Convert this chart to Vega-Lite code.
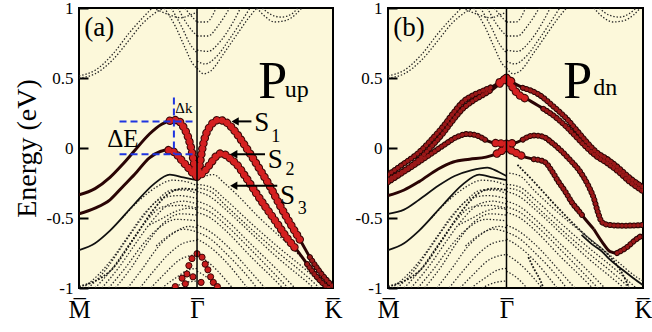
{
"$schema":"https://vega.github.io/schema/vega-lite/v6.json",
"autosize":{"type":"pad"},
"padding":{"left":11,"top":-2,"right":0,"bottom":0},
"bounds":"flush",
"spacing":55,
"datasets":{
"bulk":[
{"p":"ab","id":"c1","s":"dot","k":-0.868,"E":0.5},{"p":"ab","id":"c1","s":"dot","k":-0.75,"E":0.53},{"p":"ab","id":"c1","s":"dot","k":-0.62,"E":0.63},{"p":"ab","id":"c1","s":"dot","k":-0.5,"E":0.77},{"p":"ab","id":"c1","s":"dot","k":-0.4,"E":0.89},{"p":"ab","id":"c1","s":"dot","k":-0.3,"E":0.97},{"p":"ab","id":"c1","s":"dot","k":-0.24,"E":1.0},
{"p":"ab","id":"c2","s":"dot","k":-0.868,"E":0.515},{"p":"ab","id":"c2","s":"dot","k":-0.75,"E":0.555},{"p":"ab","id":"c2","s":"dot","k":-0.62,"E":0.67},{"p":"ab","id":"c2","s":"dot","k":-0.5,"E":0.82},{"p":"ab","id":"c2","s":"dot","k":-0.4,"E":0.93},{"p":"ab","id":"c2","s":"dot","k":-0.33,"E":1.0},
{"p":"ab","id":"cl1","s":"dot","k":-0.24,"E":1.0},{"p":"ab","id":"cl1","s":"dot","k":-0.16,"E":0.87},{"p":"ab","id":"cl1","s":"dot","k":-0.09,"E":0.72},{"p":"ab","id":"cl1","s":"dot","k":-0.03,"E":0.6},{"p":"ab","id":"cl1","s":"dot","k":0,"E":0.57},
{"p":"ab","id":"cl2","s":"dot","k":-0.19,"E":1.0},{"p":"ab","id":"cl2","s":"dot","k":-0.11,"E":0.86},{"p":"ab","id":"cl2","s":"dot","k":-0.05,"E":0.74},{"p":"ab","id":"cl2","s":"dot","k":0,"E":0.68},
{"p":"ab","id":"cl3","s":"dot","k":-0.14,"E":1.0},{"p":"ab","id":"cl3","s":"dot","k":-0.07,"E":0.88},{"p":"ab","id":"cl3","s":"dot","k":0,"E":0.8},
{"p":"ab","id":"cl4","s":"dot","k":-0.09,"E":1.0},{"p":"ab","id":"cl4","s":"dot","k":-0.03,"E":0.93},{"p":"ab","id":"cl4","s":"dot","k":0,"E":0.9},
{"p":"ab","id":"cl5","s":"dot","k":-0.3,"E":0.99},{"p":"ab","id":"cl5","s":"dot","k":-0.2,"E":0.95},{"p":"ab","id":"cl5","s":"dot","k":-0.12,"E":0.93},{"p":"ab","id":"cl5","s":"dot","k":-0.05,"E":0.95},{"p":"ab","id":"cl5","s":"dot","k":0,"E":0.97},
{"p":"ab","id":"cr1","s":"dot","k":0,"E":0.57},{"p":"ab","id":"cr1","s":"dot","k":0.05,"E":0.53},{"p":"ab","id":"cr1","s":"dot","k":0.1,"E":0.55},{"p":"ab","id":"cr1","s":"dot","k":0.2,"E":0.68},{"p":"ab","id":"cr1","s":"dot","k":0.3,"E":0.82},{"p":"ab","id":"cr1","s":"dot","k":0.38,"E":0.93},{"p":"ab","id":"cr1","s":"dot","k":0.44,"E":1.0},
{"p":"ab","id":"cr2","s":"dot","k":0,"E":0.62},{"p":"ab","id":"cr2","s":"dot","k":0.06,"E":0.6},{"p":"ab","id":"cr2","s":"dot","k":0.14,"E":0.65},{"p":"ab","id":"cr2","s":"dot","k":0.24,"E":0.78},{"p":"ab","id":"cr2","s":"dot","k":0.33,"E":0.91},{"p":"ab","id":"cr2","s":"dot","k":0.39,"E":1.0},
{"p":"ab","id":"cr3","s":"dot","k":0,"E":0.7},{"p":"ab","id":"cr3","s":"dot","k":0.08,"E":0.69},{"p":"ab","id":"cr3","s":"dot","k":0.17,"E":0.76},{"p":"ab","id":"cr3","s":"dot","k":0.26,"E":0.89},{"p":"ab","id":"cr3","s":"dot","k":0.32,"E":1.0},
{"p":"ab","id":"cr4","s":"dot","k":0,"E":0.8},{"p":"ab","id":"cr4","s":"dot","k":0.08,"E":0.8},{"p":"ab","id":"cr4","s":"dot","k":0.16,"E":0.88},{"p":"ab","id":"cr4","s":"dot","k":0.24,"E":1.0},
{"p":"ab","id":"cr5","s":"dot","k":0,"E":0.9},{"p":"ab","id":"cr5","s":"dot","k":0.07,"E":0.9},{"p":"ab","id":"cr5","s":"dot","k":0.14,"E":1.0},
{"p":"a","id":"ba1","s":"dot","k":0.44,"E":1.0},{"p":"a","id":"ba1","s":"dot","k":0.5,"E":0.94},{"p":"a","id":"ba1","s":"dot","k":0.57,"E":0.9},{"p":"a","id":"ba1","s":"dot","k":0.65,"E":0.91},{"p":"a","id":"ba1","s":"dot","k":0.72,"E":0.95},{"p":"a","id":"ba1","s":"dot","k":0.77,"E":1.0},
{"p":"a","id":"ba2","s":"dot","k":0.48,"E":1.0},{"p":"a","id":"ba2","s":"dot","k":0.55,"E":0.95},{"p":"a","id":"ba2","s":"dot","k":0.62,"E":0.935},{"p":"a","id":"ba2","s":"dot","k":0.7,"E":0.96},{"p":"a","id":"ba2","s":"dot","k":0.74,"E":1.0},
{"p":"b","id":"bb1","s":"dot","k":0.64,"E":1.0},{"p":"b","id":"bb1","s":"dot","k":0.7,"E":0.94},{"p":"b","id":"bb1","s":"dot","k":0.78,"E":0.9},{"p":"b","id":"bb1","s":"dot","k":0.86,"E":0.91},{"p":"b","id":"bb1","s":"dot","k":0.93,"E":0.95},{"p":"b","id":"bb1","s":"dot","k":0.98,"E":1.0},
{"p":"b","id":"bb2","s":"dot","k":0.68,"E":1.0},{"p":"b","id":"bb2","s":"dot","k":0.75,"E":0.95},{"p":"b","id":"bb2","s":"dot","k":0.83,"E":0.935},{"p":"b","id":"bb2","s":"dot","k":0.9,"E":0.96},{"p":"b","id":"bb2","s":"dot","k":0.95,"E":1.0},
{"p":"ab","id":"v1","s":"solid","k":-0.868,"E":-0.73},{"p":"ab","id":"v1","s":"solid","k":-0.75,"E":-0.68},{"p":"ab","id":"v1","s":"solid","k":-0.64,"E":-0.59},{"p":"ab","id":"v1","s":"solid","k":-0.46,"E":-0.4},{"p":"ab","id":"v1","s":"solid","k":-0.32,"E":-0.26},{"p":"ab","id":"v1","s":"solid","k":-0.2,"E":-0.19},{"p":"ab","id":"v1","s":"solid","k":-0.1,"E":-0.21},{"p":"ab","id":"v1","s":"solid","k":0,"E":-0.23},
{"p":"ab","id":"v2","s":"big","k":-0.868,"E":-0.99},{"p":"ab","id":"v2","s":"big","k":-0.75,"E":-0.95},{"p":"ab","id":"v2","s":"big","k":-0.64,"E":-0.88},{"p":"ab","id":"v2","s":"big","k":-0.46,"E":-0.64},{"p":"ab","id":"v2","s":"big","k":-0.32,"E":-0.44},{"p":"ab","id":"v2","s":"big","k":-0.2,"E":-0.32},{"p":"ab","id":"v2","s":"big","k":-0.1,"E":-0.29},{"p":"ab","id":"v2","s":"big","k":0,"E":-0.3},
{"p":"b","id":"vb47","s":"solid","k":-0.868,"E":-0.47},{"p":"b","id":"vb47","s":"solid","k":-0.75,"E":-0.44},{"p":"b","id":"vb47","s":"solid","k":-0.64,"E":-0.37},{"p":"b","id":"vb47","s":"solid","k":-0.5,"E":-0.27},{"p":"b","id":"vb47","s":"solid","k":-0.38,"E":-0.2},{"p":"b","id":"vb47","s":"solid","k":-0.26,"E":-0.16},{"p":"b","id":"vb47","s":"solid","k":-0.14,"E":-0.14},{"p":"b","id":"vb47","s":"solid","k":-0.06,"E":-0.17},{"p":"b","id":"vb47","s":"solid","k":0,"E":-0.2},
{"p":"ab","id":"d1","s":"dot","k":-0.8,"E":-1.0},{"p":"ab","id":"d1","s":"dot","k":-0.68,"E":-0.88},{"p":"ab","id":"d1","s":"dot","k":-0.55,"E":-0.7},{"p":"ab","id":"d1","s":"dot","k":-0.42,"E":-0.52},{"p":"ab","id":"d1","s":"dot","k":-0.3,"E":-0.38},{"p":"ab","id":"d1","s":"dot","k":-0.18,"E":-0.3},{"p":"ab","id":"d1","s":"dot","k":-0.08,"E":-0.3},{"p":"ab","id":"d1","s":"dot","k":0,"E":-0.33},
{"p":"ab","id":"d2","s":"dot","k":-0.7,"E":-1.0},{"p":"ab","id":"d2","s":"dot","k":-0.58,"E":-0.86},{"p":"ab","id":"d2","s":"dot","k":-0.45,"E":-0.68},{"p":"ab","id":"d2","s":"dot","k":-0.33,"E":-0.52},{"p":"ab","id":"d2","s":"dot","k":-0.2,"E":-0.4},{"p":"ab","id":"d2","s":"dot","k":-0.1,"E":-0.38},{"p":"ab","id":"d2","s":"dot","k":0,"E":-0.4},
{"p":"ab","id":"d3","s":"dot","k":-0.6,"E":-1.0},{"p":"ab","id":"d3","s":"dot","k":-0.48,"E":-0.85},{"p":"ab","id":"d3","s":"dot","k":-0.36,"E":-0.67},{"p":"ab","id":"d3","s":"dot","k":-0.24,"E":-0.53},{"p":"ab","id":"d3","s":"dot","k":-0.12,"E":-0.47},{"p":"ab","id":"d3","s":"dot","k":0,"E":-0.48},
{"p":"ab","id":"d4","s":"dot","k":-0.51,"E":-1.0},{"p":"ab","id":"d4","s":"dot","k":-0.4,"E":-0.86},{"p":"ab","id":"d4","s":"dot","k":-0.28,"E":-0.7},{"p":"ab","id":"d4","s":"dot","k":-0.16,"E":-0.6},{"p":"ab","id":"d4","s":"dot","k":-0.06,"E":-0.56},{"p":"ab","id":"d4","s":"dot","k":0,"E":-0.57},
{"p":"ab","id":"d5","s":"dot","k":-0.42,"E":-1.0},{"p":"ab","id":"d5","s":"dot","k":-0.32,"E":-0.88},{"p":"ab","id":"d5","s":"dot","k":-0.2,"E":-0.75},{"p":"ab","id":"d5","s":"dot","k":-0.1,"E":-0.68},{"p":"ab","id":"d5","s":"dot","k":0,"E":-0.66},
{"p":"ab","id":"d6","s":"dot","k":-0.34,"E":-1.0},{"p":"ab","id":"d6","s":"dot","k":-0.24,"E":-0.9},{"p":"ab","id":"d6","s":"dot","k":-0.13,"E":-0.8},{"p":"ab","id":"d6","s":"dot","k":0,"E":-0.76},
{"p":"ab","id":"d7","s":"dot","k":-0.26,"E":-1.0},{"p":"ab","id":"d7","s":"dot","k":-0.16,"E":-0.93},{"p":"ab","id":"d7","s":"dot","k":-0.06,"E":-0.87},{"p":"ab","id":"d7","s":"dot","k":0,"E":-0.86},
{"p":"ab","id":"d8","s":"dot","k":-0.18,"E":-1.0},{"p":"ab","id":"d8","s":"dot","k":-0.08,"E":-0.96},{"p":"ab","id":"d8","s":"dot","k":0,"E":-0.95},
{"p":"ab","id":"d9","s":"dot","k":-0.55,"E":-0.5},{"p":"ab","id":"d9","s":"dot","k":-0.42,"E":-0.37},{"p":"ab","id":"d9","s":"dot","k":-0.3,"E":-0.28},{"p":"ab","id":"d9","s":"dot","k":-0.18,"E":-0.23},{"p":"ab","id":"d9","s":"dot","k":-0.08,"E":-0.24},{"p":"ab","id":"d9","s":"dot","k":0,"E":-0.27},
{"p":"ab","id":"d10","s":"dot","k":-0.84,"E":-1.0},{"p":"ab","id":"d10","s":"dot","k":-0.72,"E":-0.9},{"p":"ab","id":"d10","s":"dot","k":-0.6,"E":-0.76},{"p":"ab","id":"d10","s":"dot","k":-0.5,"E":-0.62},{"p":"ab","id":"d10","s":"dot","k":-0.38,"E":-0.46},{"p":"ab","id":"d10","s":"dot","k":-0.26,"E":-0.36},{"p":"ab","id":"d10","s":"dot","k":-0.14,"E":-0.34},{"p":"ab","id":"d10","s":"dot","k":0,"E":-0.36},
{"p":"ab","id":"d11","s":"dot","k":-0.35,"E":-0.55},{"p":"ab","id":"d11","s":"dot","k":-0.25,"E":-0.5},{"p":"ab","id":"d11","s":"dot","k":-0.15,"E":-0.45},{"p":"ab","id":"d11","s":"dot","k":-0.05,"E":-0.43},{"p":"ab","id":"d11","s":"dot","k":0,"E":-0.44},
{"p":"ab","id":"d12","s":"dot","k":-0.3,"E":-0.7},{"p":"ab","id":"d12","s":"dot","k":-0.2,"E":-0.62},{"p":"ab","id":"d12","s":"dot","k":-0.1,"E":-0.58},{"p":"ab","id":"d12","s":"dot","k":0,"E":-0.6},
{"p":"ab","id":"d13","s":"dot","k":-0.75,"E":-1.0},{"p":"ab","id":"d13","s":"dot","k":-0.63,"E":-0.87},{"p":"ab","id":"d13","s":"dot","k":-0.5,"E":-0.69},{"p":"ab","id":"d13","s":"dot","k":-0.38,"E":-0.53},{"p":"ab","id":"d13","s":"dot","k":-0.25,"E":-0.42},{"p":"ab","id":"d13","s":"dot","k":-0.12,"E":-0.41},{"p":"ab","id":"d13","s":"dot","k":0,"E":-0.43},
{"p":"ab","id":"d14","s":"dot","k":-0.65,"E":-1.0},{"p":"ab","id":"d14","s":"dot","k":-0.53,"E":-0.86},{"p":"ab","id":"d14","s":"dot","k":-0.4,"E":-0.69},{"p":"ab","id":"d14","s":"dot","k":-0.28,"E":-0.57},{"p":"ab","id":"d14","s":"dot","k":-0.15,"E":-0.51},{"p":"ab","id":"d14","s":"dot","k":0,"E":-0.52},
{"p":"a","id":"s3","s":"dot","k":0,"E":-0.22},{"p":"a","id":"s3","s":"dot","k":0.06,"E":-0.2},{"p":"a","id":"s3","s":"dot","k":0.12,"E":-0.19},{"p":"a","id":"s3","s":"dot","k":0.2,"E":-0.25},{"p":"a","id":"s3","s":"dot","k":0.29,"E":-0.33},{"p":"a","id":"s3","s":"dot","k":0.46,"E":-0.5},{"p":"a","id":"s3","s":"dot","k":0.64,"E":-0.66},{"p":"a","id":"s3","s":"dot","k":0.79,"E":-0.8},{"p":"a","id":"s3","s":"dot","k":0.93,"E":-0.92},{"p":"a","id":"s3","s":"dot","k":1.0,"E":-0.97},
{"p":"ab","id":"r1","s":"dot","k":0,"E":-0.26},{"p":"ab","id":"r1","s":"dot","k":0.1,"E":-0.28},{"p":"ab","id":"r1","s":"dot","k":0.2,"E":-0.36},{"p":"ab","id":"r1","s":"dot","k":0.4,"E":-0.54},{"p":"ab","id":"r1","s":"dot","k":0.6,"E":-0.71},{"p":"ab","id":"r1","s":"dot","k":0.8,"E":-0.87},{"p":"ab","id":"r1","s":"dot","k":0.95,"E":-1.0},
{"p":"ab","id":"r1b","s":"dot","k":0,"E":-0.285},{"p":"ab","id":"r1b","s":"dot","k":0.1,"E":-0.31},{"p":"ab","id":"r1b","s":"dot","k":0.2,"E":-0.4},{"p":"ab","id":"r1b","s":"dot","k":0.4,"E":-0.58},{"p":"ab","id":"r1b","s":"dot","k":0.6,"E":-0.75},{"p":"ab","id":"r1b","s":"dot","k":0.8,"E":-0.91},{"p":"ab","id":"r1b","s":"dot","k":0.9,"E":-1.0},
{"p":"ab","id":"r2","s":"dot","k":0,"E":-0.31},{"p":"ab","id":"r2","s":"dot","k":0.1,"E":-0.35},{"p":"ab","id":"r2","s":"dot","k":0.2,"E":-0.43},{"p":"ab","id":"r2","s":"dot","k":0.4,"E":-0.61},{"p":"ab","id":"r2","s":"dot","k":0.6,"E":-0.79},{"p":"ab","id":"r2","s":"dot","k":0.8,"E":-0.95},{"p":"ab","id":"r2","s":"dot","k":0.86,"E":-1.0},
{"p":"ab","id":"r3","s":"dot","k":0,"E":-0.38},{"p":"ab","id":"r3","s":"dot","k":0.1,"E":-0.42},{"p":"ab","id":"r3","s":"dot","k":0.2,"E":-0.5},{"p":"ab","id":"r3","s":"dot","k":0.4,"E":-0.69},{"p":"ab","id":"r3","s":"dot","k":0.6,"E":-0.88},{"p":"ab","id":"r3","s":"dot","k":0.72,"E":-1.0},
{"p":"ab","id":"r3b","s":"dot","k":0,"E":-0.42},{"p":"ab","id":"r3b","s":"dot","k":0.1,"E":-0.46},{"p":"ab","id":"r3b","s":"dot","k":0.2,"E":-0.54},{"p":"ab","id":"r3b","s":"dot","k":0.4,"E":-0.73},{"p":"ab","id":"r3b","s":"dot","k":0.6,"E":-0.93},{"p":"ab","id":"r3b","s":"dot","k":0.67,"E":-1.0},
{"p":"ab","id":"r4","s":"dot","k":0,"E":-0.46},{"p":"ab","id":"r4","s":"dot","k":0.1,"E":-0.5},{"p":"ab","id":"r4","s":"dot","k":0.2,"E":-0.58},{"p":"ab","id":"r4","s":"dot","k":0.4,"E":-0.78},{"p":"ab","id":"r4","s":"dot","k":0.6,"E":-0.97},{"p":"ab","id":"r4","s":"dot","k":0.63,"E":-1.0},
{"p":"ab","id":"r5","s":"dot","k":0,"E":-0.55},{"p":"ab","id":"r5","s":"dot","k":0.1,"E":-0.6},{"p":"ab","id":"r5","s":"dot","k":0.2,"E":-0.68},{"p":"ab","id":"r5","s":"dot","k":0.4,"E":-0.89},{"p":"ab","id":"r5","s":"dot","k":0.5,"E":-1.0},
{"p":"ab","id":"r5b","s":"dot","k":0,"E":-0.6},{"p":"ab","id":"r5b","s":"dot","k":0.1,"E":-0.65},{"p":"ab","id":"r5b","s":"dot","k":0.2,"E":-0.74},{"p":"ab","id":"r5b","s":"dot","k":0.4,"E":-0.95},{"p":"ab","id":"r5b","s":"dot","k":0.44,"E":-1.0},
{"p":"ab","id":"r6","s":"dot","k":0,"E":-0.65},{"p":"ab","id":"r6","s":"dot","k":0.1,"E":-0.71},{"p":"ab","id":"r6","s":"dot","k":0.2,"E":-0.8},{"p":"ab","id":"r6","s":"dot","k":0.37,"E":-1.0},
{"p":"ab","id":"r7","s":"dot","k":0,"E":-0.76},{"p":"ab","id":"r7","s":"dot","k":0.1,"E":-0.83},{"p":"ab","id":"r7","s":"dot","k":0.2,"E":-0.93},{"p":"ab","id":"r7","s":"dot","k":0.26,"E":-1.0},
{"p":"ab","id":"r8","s":"dot","k":0,"E":-0.88},{"p":"ab","id":"r8","s":"dot","k":0.08,"E":-0.93},{"p":"ab","id":"r8","s":"dot","k":0.15,"E":-1.0},
{"p":"b","id":"rb0","s":"dot","k":0.02,"E":-0.18},{"p":"b","id":"rb0","s":"dot","k":0.1,"E":-0.2},{"p":"b","id":"rb0","s":"dot","k":0.2,"E":-0.3},{"p":"b","id":"rb0","s":"dot","k":0.4,"E":-0.48},{"p":"b","id":"rb0","s":"dot","k":0.6,"E":-0.64},{"p":"b","id":"rb0","s":"dot","k":0.8,"E":-0.8},{"p":"b","id":"rb0","s":"dot","k":0.95,"E":-0.92},{"p":"b","id":"rb0","s":"dot","k":1.0,"E":-0.95},
{"p":"b","id":"sb","s":"big","k":0.08,"E":-0.12},{"p":"b","id":"sb","s":"big","k":0.2,"E":-0.24},{"p":"b","id":"sb","s":"big","k":0.35,"E":-0.4},{"p":"b","id":"sb","s":"big","k":0.5,"E":-0.55},{"p":"b","id":"sb","s":"big","k":0.62,"E":-0.66},{"p":"b","id":"sb","s":"big","k":0.71,"E":-0.73},{"p":"b","id":"sb","s":"big","k":0.78,"E":-0.8},{"p":"b","id":"sb","s":"big","k":0.85,"E":-0.9},{"p":"b","id":"sb","s":"big","k":0.9,"E":-1.0},
{"p":"b","id":"sb2","s":"big","k":0.16,"E":-0.78},{"p":"b","id":"sb2","s":"big","k":0.2,"E":-0.86},{"p":"b","id":"sb2","s":"big","k":0.25,"E":-0.95},{"p":"b","id":"sb2","s":"big","k":0.27,"E":-1.0},
{"p":"b","id":"kb","s":"solid","k":0.55,"E":-0.62},{"p":"b","id":"kb","s":"solid","k":0.63,"E":-0.69},{"p":"b","id":"kb","s":"solid","k":0.7,"E":-0.74},{"p":"b","id":"kb","s":"solid","k":0.75,"E":-0.79},{"p":"b","id":"kb","s":"solid","k":0.85,"E":-0.87},{"p":"b","id":"kb","s":"solid","k":0.93,"E":-0.93},{"p":"b","id":"kb","s":"solid","k":1.0,"E":-0.98}
],
"bands":[
{"p":"a","id":"S1L","w":0,"k":-0.868,"E":-0.335},{"p":"a","id":"S1L","w":0,"k":-0.75,"E":-0.29},{"p":"a","id":"S1L","w":0,"k":-0.64,"E":-0.21},{"p":"a","id":"S1L","w":0,"k":-0.55,"E":-0.12},{"p":"a","id":"S1L","w":0,"k":-0.46,"E":-0.02},{"p":"a","id":"S1L","w":0,"k":-0.35,"E":0.1},{"p":"a","id":"S1L","w":0,"k":-0.26,"E":0.17},{"p":"a","id":"S1L","w":2,"k":-0.2,"E":0.195},{"p":"a","id":"S1L","w":2,"k":-0.15,"E":0.2},{"p":"a","id":"S1L","w":2,"k":-0.1,"E":0.15},{"p":"a","id":"S1L","w":2,"k":-0.06,"E":0.06},{"p":"a","id":"S1L","w":2,"k":-0.037,"E":-0.03},{"p":"a","id":"S1L","w":2,"k":-0.02,"E":-0.12},{"p":"a","id":"S1L","w":2,"k":0,"E":-0.2},
{"p":"a","id":"S1R","w":2,"k":0,"E":-0.2},{"p":"a","id":"S1R","w":2,"k":0.02,"E":-0.12},{"p":"a","id":"S1R","w":2,"k":0.036,"E":-0.02},{"p":"a","id":"S1R","w":2,"k":0.06,"E":0.08},{"p":"a","id":"S1R","w":2,"k":0.1,"E":0.16},{"p":"a","id":"S1R","w":2,"k":0.16,"E":0.2},{"p":"a","id":"S1R","w":2,"k":0.22,"E":0.18},{"p":"a","id":"S1R","w":2,"k":0.27,"E":0.13},{"p":"a","id":"S1R","w":2,"k":0.33,"E":0.05},{"p":"a","id":"S1R","w":2,"k":0.39,"E":-0.04},{"p":"a","id":"S1R","w":2,"k":0.46,"E":-0.15},{"p":"a","id":"S1R","w":2,"k":0.54,"E":-0.28},{"p":"a","id":"S1R","w":2,"k":0.61,"E":-0.41},{"p":"a","id":"S1R","w":2,"k":0.68,"E":-0.53},{"p":"a","id":"S1R","w":2,"k":0.76,"E":-0.66},{"p":"a","id":"S1R","w":1,"k":0.83,"E":-0.78},{"p":"a","id":"S1R","w":1,"k":0.9,"E":-0.88},{"p":"a","id":"S1R","w":1,"k":0.96,"E":-0.95},{"p":"a","id":"S1R","w":1,"k":1.0,"E":-0.99},
{"p":"a","id":"S2L","w":0,"k":-0.868,"E":-0.47},{"p":"a","id":"S2L","w":0,"k":-0.75,"E":-0.43},{"p":"a","id":"S2L","w":0,"k":-0.64,"E":-0.37},{"p":"a","id":"S2L","w":0,"k":-0.55,"E":-0.28},{"p":"a","id":"S2L","w":0,"k":-0.46,"E":-0.19},{"p":"a","id":"S2L","w":0,"k":-0.35,"E":-0.07},{"p":"a","id":"S2L","w":0,"k":-0.27,"E":-0.025},{"p":"a","id":"S2L","w":2,"k":-0.21,"E":-0.015},{"p":"a","id":"S2L","w":2,"k":-0.16,"E":-0.035},{"p":"a","id":"S2L","w":2,"k":-0.12,"E":-0.08},{"p":"a","id":"S2L","w":2,"k":-0.07,"E":-0.135},{"p":"a","id":"S2L","w":2,"k":-0.03,"E":-0.18},{"p":"a","id":"S2L","w":2,"k":0,"E":-0.205},
{"p":"a","id":"S2R","w":2,"k":0,"E":-0.205},{"p":"a","id":"S2R","w":2,"k":0.03,"E":-0.19},{"p":"a","id":"S2R","w":2,"k":0.06,"E":-0.16},{"p":"a","id":"S2R","w":2,"k":0.1,"E":-0.11},{"p":"a","id":"S2R","w":2,"k":0.14,"E":-0.06},{"p":"a","id":"S2R","w":2,"k":0.17,"E":-0.04},{"p":"a","id":"S2R","w":2,"k":0.21,"E":-0.05},{"p":"a","id":"S2R","w":2,"k":0.25,"E":-0.08},{"p":"a","id":"S2R","w":2,"k":0.29,"E":-0.115},{"p":"a","id":"S2R","w":2,"k":0.36,"E":-0.21},{"p":"a","id":"S2R","w":2,"k":0.44,"E":-0.33},{"p":"a","id":"S2R","w":2,"k":0.51,"E":-0.43},{"p":"a","id":"S2R","w":2,"k":0.59,"E":-0.54},{"p":"a","id":"S2R","w":2,"k":0.66,"E":-0.64},{"p":"a","id":"S2R","w":2,"k":0.735,"E":-0.73},{"p":"a","id":"S2R","w":1,"k":0.81,"E":-0.83},{"p":"a","id":"S2R","w":1,"k":0.88,"E":-0.92},{"p":"a","id":"S2R","w":1,"k":0.94,"E":-0.98},{"p":"a","id":"S2R","w":1,"k":0.97,"E":-1.0},
{"p":"b","id":"B1L","w":1,"k":-0.868,"E":-0.19},{"p":"b","id":"B1L","w":1,"k":-0.75,"E":-0.11},{"p":"b","id":"B1L","w":1,"k":-0.64,"E":-0.03},{"p":"b","id":"B1L","w":1,"k":-0.55,"E":0.06},{"p":"b","id":"B1L","w":1,"k":-0.46,"E":0.16},{"p":"b","id":"B1L","w":1,"k":-0.39,"E":0.25},{"p":"b","id":"B1L","w":1,"k":-0.32,"E":0.33},{"p":"b","id":"B1L","w":1,"k":-0.24,"E":0.38},{"p":"b","id":"B1L","w":1,"k":-0.17,"E":0.41},{"p":"b","id":"B1L","w":1,"k":-0.1,"E":0.44},{"p":"b","id":"B1L","w":2,"k":-0.05,"E":0.47},{"p":"b","id":"B1L","w":2,"k":0,"E":0.5},
{"p":"b","id":"B2L","w":1,"k":-0.868,"E":-0.225},{"p":"b","id":"B2L","w":1,"k":-0.75,"E":-0.16},{"p":"b","id":"B2L","w":1,"k":-0.64,"E":-0.08},{"p":"b","id":"B2L","w":1,"k":-0.55,"E":0.01},{"p":"b","id":"B2L","w":1,"k":-0.46,"E":0.11},{"p":"b","id":"B2L","w":1,"k":-0.39,"E":0.2},{"p":"b","id":"B2L","w":1,"k":-0.32,"E":0.28},{"p":"b","id":"B2L","w":1,"k":-0.24,"E":0.34},{"p":"b","id":"B2L","w":1,"k":-0.17,"E":0.38},{"p":"b","id":"B2L","w":1,"k":-0.1,"E":0.42},{"p":"b","id":"B2L","w":2,"k":-0.05,"E":0.46},{"p":"b","id":"B2L","w":2,"k":0,"E":0.5},
{"p":"b","id":"B1R","w":2,"k":0,"E":0.5},{"p":"b","id":"B1R","w":2,"k":0.06,"E":0.46},{"p":"b","id":"B1R","w":1,"k":0.12,"E":0.43},{"p":"b","id":"B1R","w":1,"k":0.24,"E":0.38},{"p":"b","id":"B1R","w":1,"k":0.34,"E":0.3},{"p":"b","id":"B1R","w":1,"k":0.44,"E":0.21},{"p":"b","id":"B1R","w":1,"k":0.52,"E":0.12},{"p":"b","id":"B1R","w":1,"k":0.59,"E":0.04},{"p":"b","id":"B1R","w":1,"k":0.66,"E":-0.03},{"p":"b","id":"B1R","w":1,"k":0.74,"E":-0.08},{"p":"b","id":"B1R","w":1,"k":0.82,"E":-0.14},{"p":"b","id":"B1R","w":1,"k":0.9,"E":-0.21},{"p":"b","id":"B1R","w":1,"k":1.0,"E":-0.28},
{"p":"b","id":"B2R","w":2,"k":0,"E":0.5},{"p":"b","id":"B2R","w":2,"k":0.04,"E":0.44},{"p":"b","id":"B2R","w":2,"k":0.08,"E":0.39},{"p":"b","id":"B2R","w":2,"k":0.15,"E":0.35},{"p":"b","id":"B2R","w":1,"k":0.27,"E":0.28},{"p":"b","id":"B2R","w":1,"k":0.36,"E":0.22},{"p":"b","id":"B2R","w":1,"k":0.44,"E":0.15},{"p":"b","id":"B2R","w":1,"k":0.52,"E":0.07},{"p":"b","id":"B2R","w":1,"k":0.59,"E":0.0},{"p":"b","id":"B2R","w":1,"k":0.66,"E":-0.06},{"p":"b","id":"B2R","w":1,"k":0.74,"E":-0.11},{"p":"b","id":"B2R","w":1,"k":0.82,"E":-0.17},{"p":"b","id":"B2R","w":1,"k":0.9,"E":-0.24},{"p":"b","id":"B2R","w":1,"k":1.0,"E":-0.31},
{"p":"b","id":"B3L","w":1,"k":-0.868,"E":-0.245},{"p":"b","id":"B3L","w":1,"k":-0.75,"E":-0.17},{"p":"b","id":"B3L","w":1,"k":-0.64,"E":-0.1},{"p":"b","id":"B3L","w":1,"k":-0.55,"E":-0.04},{"p":"b","id":"B3L","w":1,"k":-0.46,"E":0.02},{"p":"b","id":"B3L","w":1,"k":-0.36,"E":0.08},{"p":"b","id":"B3L","w":1,"k":-0.29,"E":0.1},{"p":"b","id":"B3L","w":1,"k":-0.22,"E":0.09},{"p":"b","id":"B3L","w":1,"k":-0.15,"E":0.055},{"p":"b","id":"B3L","w":2,"k":-0.08,"E":0.035},{"p":"b","id":"B3L","w":2,"k":0,"E":0.03},
{"p":"b","id":"B3R","w":2,"k":0,"E":0.03},{"p":"b","id":"B3R","w":2,"k":0.06,"E":0.035},{"p":"b","id":"B3R","w":1,"k":0.12,"E":0.06},{"p":"b","id":"B3R","w":1,"k":0.2,"E":0.09},{"p":"b","id":"B3R","w":1,"k":0.27,"E":0.08},{"p":"b","id":"B3R","w":1,"k":0.33,"E":0.04},{"p":"b","id":"B3R","w":1,"k":0.39,"E":-0.01},{"p":"b","id":"B3R","w":1,"k":0.47,"E":-0.09},{"p":"b","id":"B3R","w":1,"k":0.54,"E":-0.17},{"p":"b","id":"B3R","w":1,"k":0.6,"E":-0.27},{"p":"b","id":"B3R","w":1,"k":0.64,"E":-0.36},{"p":"b","id":"B3R","w":1,"k":0.67,"E":-0.46},{"p":"b","id":"B3R","w":1,"k":0.7,"E":-0.53},{"p":"b","id":"B3R","w":1,"k":0.75,"E":-0.55},{"p":"b","id":"B3R","w":1,"k":0.85,"E":-0.555},{"p":"b","id":"B3R","w":1,"k":1.0,"E":-0.55},
{"p":"b","id":"B4L","w":0,"k":-0.868,"E":-0.34},{"p":"b","id":"B4L","w":0,"k":-0.75,"E":-0.3},{"p":"b","id":"B4L","w":0,"k":-0.64,"E":-0.24},{"p":"b","id":"B4L","w":0,"k":-0.5,"E":-0.15},{"p":"b","id":"B4L","w":0,"k":-0.39,"E":-0.1},{"p":"b","id":"B4L","w":0,"k":-0.27,"E":-0.08},{"p":"b","id":"B4L","w":0,"k":-0.15,"E":-0.065},{"p":"b","id":"B4L","w":2,"k":-0.07,"E":-0.04},{"p":"b","id":"B4L","w":2,"k":0,"E":0.0},
{"p":"b","id":"B4R","w":2,"k":0,"E":0.0},{"p":"b","id":"B4R","w":2,"k":0.06,"E":-0.03},{"p":"b","id":"B4R","w":2,"k":0.12,"E":-0.06},{"p":"b","id":"B4R","w":1,"k":0.2,"E":-0.08},{"p":"b","id":"B4R","w":1,"k":0.28,"E":-0.1},{"p":"b","id":"B4R","w":1,"k":0.33,"E":-0.16},{"p":"b","id":"B4R","w":1,"k":0.38,"E":-0.24},{"p":"b","id":"B4R","w":1,"k":0.43,"E":-0.31},{"p":"b","id":"B4R","w":1,"k":0.48,"E":-0.39},{"p":"b","id":"B4R","w":1,"k":0.53,"E":-0.45},{"p":"b","id":"B4R","w":1,"k":0.57,"E":-0.5},{"p":"b","id":"B4R","w":0,"k":0.64,"E":-0.58},
{"p":"b","id":"B4K","w":0,"k":0.64,"E":-0.58},{"p":"b","id":"B4K","w":0,"k":0.7,"E":-0.67},{"p":"b","id":"B4K","w":0,"k":0.76,"E":-0.74},{"p":"b","id":"B4K","w":1,"k":0.81,"E":-0.75},{"p":"b","id":"B4K","w":1,"k":0.88,"E":-0.71},{"p":"b","id":"B4K","w":1,"k":0.94,"E":-0.66},{"p":"b","id":"B4K","w":1,"k":1.0,"E":-0.62}
],
"redpts":[
{"k":0,"E":-0.755},{"k":-0.037,"E":-0.79},{"k":0.037,"E":-0.78},{"k":-0.06,"E":-0.84},{"k":0.06,"E":-0.83},{"k":-0.074,"E":-0.9},{"k":0.08,"E":-0.87},{"k":-0.086,"E":-0.97},{"k":0.1,"E":-0.92},{"k":0.12,"E":-0.96},{"k":-0.11,"E":-0.93},{"k":-0.16,"E":-0.99},{"k":0.15,"E":-0.99},{"k":-0.03,"E":-0.92},{"k":0.03,"E":-0.96}
],
"labels":[
{"p":"a","r":"tag","t":"(a)","k":-0.83,"E":0.8},
{"p":"a","r":"big","t":"P","k":0.45,"E":0.36},
{"p":"a","r":"sub","t":"up","k":0.645,"E":0.365},
{"p":"a","r":"S","t":"S","k":0.42,"E":0.125},{"p":"a","r":"n","t":"1","k":0.545,"E":0.045},
{"p":"a","r":"S","t":"S","k":0.52,"E":-0.14},{"p":"a","r":"n","t":"2","k":0.65,"E":-0.19},
{"p":"a","r":"S","t":"S","k":0.61,"E":-0.4},{"p":"a","r":"n","t":"3","k":0.74,"E":-0.47},
{"p":"a","r":"dE","t":"ΔE","k":-0.66,"E":0.005},
{"p":"a","r":"dk","t":"Δk","k":-0.16,"E":0.25},
{"p":"b","r":"tag","t":"(b)","k":-0.83,"E":0.8},
{"p":"b","r":"big","t":"P","k":0.415,"E":0.36},
{"p":"b","r":"sub","t":"dn","k":0.635,"E":0.38}
],
"guides":[
{"p":"ab","g":"gamma","k":0,"k2":0,"E":-1,"E2":1},
{"p":"a","g":"arrow","k":0.4,"k2":0.28,"E":0.19,"E2":0.19},
{"p":"a","g":"arrow","k":0.5,"k2":0.27,"E":-0.045,"E2":-0.045},
{"p":"a","g":"arrow","k":0.59,"k2":0.27,"E":-0.27,"E2":-0.27},
{"p":"a","g":"blue","k":-0.57,"k2":-0.01,"E":0.19,"E2":0.19},
{"p":"a","g":"blue","k":-0.57,"k2":-0.01,"E":-0.045,"E2":-0.045},
{"p":"a","g":"blue","k":-0.17,"k2":-0.17,"E":0.36,"E2":-0.045}
]
},
"hconcat":[
{
"width":254,"height":280,
"encoding":{
"x":{"field":"k","type":"quantitative","scale":{"domain":[-0.868,1],"nice":false,"zero":false},"axis":{"values":[-0.868,0,1],"labelExpr":"datum.value < -0.5 ? ['', 'M\u0305'] : (datum.value > 0.5 ? ['', 'K\u0305'] : ['_', 'Γ'])","labelLineHeight":21.5,"ticks":false,"domain":false,"grid":false,"labelFontSize":25,"labelPadding":-12.5,"labelFlush":false,"labelOverlap":false,"labelBound":false,"title":null}},
"y":{"field":"E","type":"quantitative","scale":{"domain":[-1,1],"nice":false,"zero":false},"axis":{"values":[-1,-0.5,0,0.5,1],"labelExpr":"datum.value == 0 ? '0' : datum.value == 0.5 ? '0.5' : datum.value == -0.5 ? '-0.5' : datum.value == 1 ? '1' : '-1'","tickSize":-9,"tickWidth":2,"tickColor":"#000","labelFontSize":17,"labelPadding":15,"domain":false,"grid":false,"title":"Energy (eV)","titleFontSize":28,"titleFontWeight":"normal","titleX":-52,"titleY":140,"titleAngle":-90,"titleAlign":"center","titleBaseline":"middle"}}
},
"layer":[
{"data":{"name":"bulk"},"transform":[{"filter":"(datum.p == 'a' || datum.p == 'ab') && datum.s == 'dot'"}],"mark":{"type":"line","interpolate":"monotone","strokeDash":[1.4,1.9],"strokeWidth":1.3,"color":"#262626","clip":true},"encoding":{"detail":{"field":"id"}}},
{"data":{"name":"bulk"},"transform":[{"filter":"(datum.p == 'a' || datum.p == 'ab') && datum.s == 'big'"}],"mark":{"type":"line","interpolate":"monotone","strokeDash":[1.8,1.6],"strokeWidth":1.8,"color":"#151515","clip":true},"encoding":{"detail":{"field":"id"}}},
{"data":{"name":"bulk"},"transform":[{"filter":"(datum.p == 'a' || datum.p == 'ab') && datum.s == 'solid'"}],"mark":{"type":"line","interpolate":"monotone","strokeWidth":1.8,"color":"#111","clip":true},"encoding":{"detail":{"field":"id"}}},
{"data":{"name":"bands"},"transform":[{"filter":"datum.p == 'a'"}],"mark":{"type":"line","interpolate":"monotone","strokeWidth":3,"color":"#2a0404","clip":true},"encoding":{"detail":{"field":"id"}}},
{"data":{"name":"bands"},"transform":[{"filter":"datum.p == 'a' && datum.w == 1"}],"mark":{"type":"line","interpolate":"monotone","strokeWidth":6,"strokeDash":[0.01,4],"strokeCap":"round","color":"#2a0404","clip":true},"encoding":{"detail":{"field":"id"}}},
{"data":{"name":"bands"},"transform":[{"filter":"datum.p == 'a' && datum.w == 1"}],"mark":{"type":"line","interpolate":"monotone","strokeWidth":4,"strokeDash":[0.01,4],"strokeCap":"round","color":"#9a1818","clip":true},"encoding":{"detail":{"field":"id"}}},
{"data":{"name":"bands"},"transform":[{"filter":"datum.p == 'a' && datum.w == 2"}],"mark":{"type":"line","interpolate":"monotone","strokeWidth":8.5,"strokeDash":[0.01,5.5],"strokeCap":"round","color":"#3a0606","clip":true},"encoding":{"detail":{"field":"id"}}},
{"data":{"name":"bands"},"transform":[{"filter":"datum.p == 'a' && datum.w == 2"}],"mark":{"type":"line","interpolate":"monotone","strokeWidth":6.3,"strokeDash":[0.01,5.5],"strokeCap":"round","color":"#d42020","clip":true},"encoding":{"detail":{"field":"id"}}},
{"data":{"name":"redpts"},"mark":{"type":"point","filled":true,"size":38,"color":"#c81c1c","stroke":"#3a0606","strokeWidth":1,"opacity":1,"clip":true}},
{"data":{"name":"guides"},"transform":[{"filter":"datum.g == 'gamma'"}],"mark":{"type":"rule","color":"#000","strokeWidth":1.5},"encoding":{"x2":{"field":"k2"},"y2":{"field":"E2"}}},
{"data":{"name":"guides"},"transform":[{"filter":"datum.p == 'a' && datum.g == 'blue'"}],"mark":{"type":"rule","color":"#1f35e0","strokeWidth":2,"strokeDash":[7,4]},"encoding":{"x2":{"field":"k2"},"y2":{"field":"E2"}}},
{"data":{"name":"guides"},"transform":[{"filter":"datum.p == 'a' && datum.g == 'arrow'"}],"mark":{"type":"rule","color":"#000","strokeWidth":2},"encoding":{"x2":{"field":"k2"},"y2":{"field":"E2"}}},
{"data":{"name":"guides"},"transform":[{"filter":"datum.p == 'a' && datum.g == 'arrow'"}],"mark":{"type":"point","shape":"triangle-left","filled":true,"size":70,"color":"#000","opacity":1},"encoding":{"x":{"field":"k2","type":"quantitative"}}},
{"data":{"name":"labels"},"transform":[{"filter":"datum.p == 'a'"}],"mark":{"type":"text","align":"left","baseline":"alphabetic","font":"Liberation Serif","color":"#000"},"encoding":{"text":{"field":"t"},"size":{"field":"r","type":"nominal","scale":{"type":"ordinal","domain":["tag","big","sub","S","n","dE","dk"],"range":[27,52,24,27,18,25,15]},"legend":null}}}
]
},
{
"width":255,"height":280,
"encoding":{
"x":{"field":"k","type":"quantitative","scale":{"domain":[-0.868,1],"nice":false,"zero":false},"axis":{"values":[-0.868,0,1],"labelExpr":"datum.value < -0.5 ? ['', 'M\u0305'] : (datum.value > 0.5 ? ['', 'K\u0305'] : ['_', 'Γ'])","labelLineHeight":21.5,"ticks":false,"domain":false,"grid":false,"labelFontSize":25,"labelPadding":-12.5,"labelFlush":false,"labelOverlap":false,"labelBound":false,"title":null}},
"y":{"field":"E","type":"quantitative","scale":{"domain":[-1,1],"nice":false,"zero":false},"axis":{"values":[-1,-0.5,0,0.5,1],"labelExpr":"datum.value == 0 ? '0' : datum.value == 0.5 ? '0.5' : datum.value == -0.5 ? '-0.5' : datum.value == 1 ? '1' : '-1'","tickSize":-9,"tickWidth":2,"tickColor":"#000","labelFontSize":17,"labelPadding":15,"domain":false,"grid":false,"title":null}}
},
"layer":[
{"data":{"name":"bulk"},"transform":[{"filter":"(datum.p == 'b' || datum.p == 'ab') && datum.s == 'dot'"}],"mark":{"type":"line","interpolate":"monotone","strokeDash":[1.4,1.9],"strokeWidth":1.3,"color":"#262626","clip":true},"encoding":{"detail":{"field":"id"}}},
{"data":{"name":"bulk"},"transform":[{"filter":"(datum.p == 'b' || datum.p == 'ab') && datum.s == 'big'"}],"mark":{"type":"line","interpolate":"monotone","strokeDash":[1.8,1.6],"strokeWidth":1.8,"color":"#151515","clip":true},"encoding":{"detail":{"field":"id"}}},
{"data":{"name":"bulk"},"transform":[{"filter":"(datum.p == 'b' || datum.p == 'ab') && datum.s == 'solid'"}],"mark":{"type":"line","interpolate":"monotone","strokeWidth":1.8,"color":"#111","clip":true},"encoding":{"detail":{"field":"id"}}},
{"data":{"name":"bands"},"transform":[{"filter":"datum.p == 'b'"}],"mark":{"type":"line","interpolate":"monotone","strokeWidth":3,"color":"#2a0404","clip":true},"encoding":{"detail":{"field":"id"}}},
{"data":{"name":"bands"},"transform":[{"filter":"datum.p == 'b' && datum.w == 1"}],"mark":{"type":"line","interpolate":"monotone","strokeWidth":6,"strokeDash":[0.01,4],"strokeCap":"round","color":"#2a0404","clip":true},"encoding":{"detail":{"field":"id"}}},
{"data":{"name":"bands"},"transform":[{"filter":"datum.p == 'b' && datum.w == 1"}],"mark":{"type":"line","interpolate":"monotone","strokeWidth":4,"strokeDash":[0.01,4],"strokeCap":"round","color":"#9a1818","clip":true},"encoding":{"detail":{"field":"id"}}},
{"data":{"name":"bands"},"transform":[{"filter":"datum.p == 'b' && datum.w == 2"}],"mark":{"type":"line","interpolate":"monotone","strokeWidth":8.5,"strokeDash":[0.01,5.5],"strokeCap":"round","color":"#3a0606","clip":true},"encoding":{"detail":{"field":"id"}}},
{"data":{"name":"bands"},"transform":[{"filter":"datum.p == 'b' && datum.w == 2"}],"mark":{"type":"line","interpolate":"monotone","strokeWidth":6.3,"strokeDash":[0.01,5.5],"strokeCap":"round","color":"#d42020","clip":true},"encoding":{"detail":{"field":"id"}}},
{"data":{"name":"guides"},"transform":[{"filter":"datum.g == 'gamma'"}],"mark":{"type":"rule","color":"#000","strokeWidth":1.5},"encoding":{"x2":{"field":"k2"},"y2":{"field":"E2"}}},
{"data":{"name":"labels"},"transform":[{"filter":"datum.p == 'b'"}],"mark":{"type":"text","align":"left","baseline":"alphabetic","font":"Liberation Serif","color":"#000"},"encoding":{"text":{"field":"t"},"size":{"field":"r","type":"nominal","scale":{"type":"ordinal","domain":["tag","big","sub","S","n","dE","dk"],"range":[27,52,24,27,18,25,15]},"legend":null}}}
]
}
],
"config":{
"font":"Liberation Serif",
"view":{"stroke":"#000","strokeWidth":2,"fill":"#FCF8DA"},
"axis":{"labelFont":"Liberation Serif","titleFont":"Liberation Serif","labelColor":"#000","titleColor":"#000"}
}
}
